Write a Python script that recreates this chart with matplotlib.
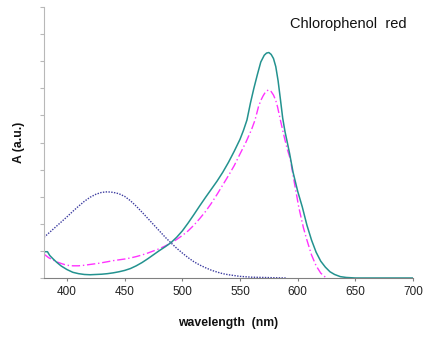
import matplotlib
matplotlib.use("Agg")
import matplotlib.pyplot as plt

plt.rcParams['font.family'] = ['Liberation Sans', 'DejaVu Sans']

# Teal solid spectrum
wl_teal = [380, 383, 385, 388, 391, 395, 400, 405, 410, 415, 420, 425, 430, 435, 440,
           445, 450, 455, 460, 465, 470, 475, 480, 485, 490, 495, 500, 505, 510, 515,
           520, 525, 530, 535, 540, 545, 550, 553, 556, 559, 562, 565, 568, 571, 573,
           575, 577, 579, 581, 583, 585, 587, 589, 591, 593, 596, 600, 604, 608, 612,
           616, 620, 624, 628, 632, 637, 642, 650, 700]
a_teal = [0.097, 0.097, 0.083, 0.070, 0.058, 0.044, 0.031, 0.021, 0.016, 0.013, 0.012,
          0.013, 0.014, 0.016, 0.019, 0.023, 0.028, 0.035, 0.045, 0.057, 0.071, 0.086,
          0.101, 0.115, 0.130, 0.150, 0.174, 0.203, 0.234, 0.266, 0.297, 0.327, 0.357,
          0.390, 0.427, 0.468, 0.512, 0.545, 0.583, 0.645, 0.700, 0.750, 0.797, 0.822,
          0.830, 0.832, 0.825, 0.810, 0.780, 0.728, 0.660, 0.590, 0.540, 0.500, 0.459,
          0.390, 0.320, 0.262, 0.195, 0.140, 0.095, 0.062, 0.040, 0.023, 0.013, 0.005,
          0.002, 0.0, 0.0]

# Magenta dash-dot spectrum
wl_mag = [380, 384, 388, 392, 396, 400, 405, 410, 415, 420, 427, 435, 440, 445, 450,
          455, 460, 465, 470, 475, 480, 485, 490, 495, 500, 505, 510, 515, 520, 525,
          530, 535, 540, 545, 550, 555, 560, 563, 566, 568, 570, 572, 574.5, 577, 579,
          581, 582.5, 585, 587, 589, 591, 593.5, 597, 601, 605, 608, 612, 616, 620,
          624, 625]
a_mag = [0.088, 0.075, 0.066, 0.058, 0.052, 0.047, 0.045, 0.045, 0.047, 0.050, 0.054,
         0.060, 0.064, 0.067, 0.070, 0.074, 0.079, 0.085, 0.092, 0.100, 0.108, 0.118,
         0.129, 0.142, 0.157, 0.174, 0.195, 0.219, 0.245, 0.275, 0.308, 0.343, 0.378,
         0.415, 0.458, 0.500, 0.548, 0.583, 0.632, 0.655, 0.672, 0.686, 0.694, 0.688,
         0.675, 0.655, 0.632, 0.583, 0.545, 0.509, 0.475, 0.440, 0.355, 0.260, 0.185,
         0.140, 0.085, 0.045, 0.018, 0.003, 0.0]

# Blue dotted spectrum
wl_blue = [380, 385, 390, 395, 400, 405, 410, 415, 420, 425, 430, 435, 440, 445, 450,
           455, 460, 465, 470, 475, 480, 485, 490, 495, 500, 505, 510, 515, 520, 525,
           530, 535, 540, 545, 550, 560, 570, 580, 590]
a_blue = [0.150, 0.169, 0.188, 0.207, 0.226, 0.246, 0.265, 0.283, 0.298, 0.309, 0.316,
          0.318, 0.316, 0.311, 0.301, 0.285, 0.265, 0.243, 0.220, 0.197, 0.174, 0.151,
          0.130, 0.110, 0.092, 0.075, 0.060, 0.048, 0.038, 0.029, 0.022, 0.016, 0.012,
          0.009, 0.006, 0.003, 0.002, 0.001, 0.0]

x_ticks = [400, 450, 500, 550, 600, 650, 700]
y_ticks = [0.0, 0.1, 0.2, 0.3, 0.4, 0.5, 0.6, 0.7, 0.8, 0.9, 1.0]

fig = plt.figure(figsize=(4.25, 3.38), dpi=100)
ax = fig.add_axes([44/425, 1-278/338, 369/425, 271/338])

ax.plot(wl_blue, a_blue, color='#3c3ca0', lw=1.0, ls=(0, (1, 1)))
ax.plot(wl_mag, a_mag, color='#ff33ff', lw=1.0, ls=(0, (6, 2, 1, 2)))
ax.plot(wl_teal, a_teal, color='#23928f', lw=1.1, ls='-')

ax.set_xlim(380, 700)
ax.set_ylim(0, 1)
ax.set_xticks(x_ticks)
ax.set_yticks(y_ticks)
ax.set_yticklabels([])
for s in ['top', 'right']:
    ax.spines[s].set_visible(False)
ax.spines['left'].set_color('#b8b8b8')
ax.spines['bottom'].set_color('#808080')
ax.tick_params(axis='y', direction='out', length=3, color='#b8b8b8', width=0.8)
ax.tick_params(axis='x', direction='out', length=2, color='#808080', width=0.8,
               labelsize=8.5, pad=4, labelcolor='#222222')

fig.text(228/425, 1-323/338, 'wavelength  (nm)', fontsize=8.8, fontweight='bold',
         ha='center', va='center', color='#111111')
fig.text(19/425, 1-142/338, 'A (a.u.)', fontsize=8.8, fontweight='bold',
         ha='center', va='center', rotation=90, color='#111111')
fig.text(407/425, 1-28/338, 'Chlorophenol  red', fontsize=10.5, ha='right',
         va='baseline', color='#111111')

fig.savefig('out.png', dpi=100)
